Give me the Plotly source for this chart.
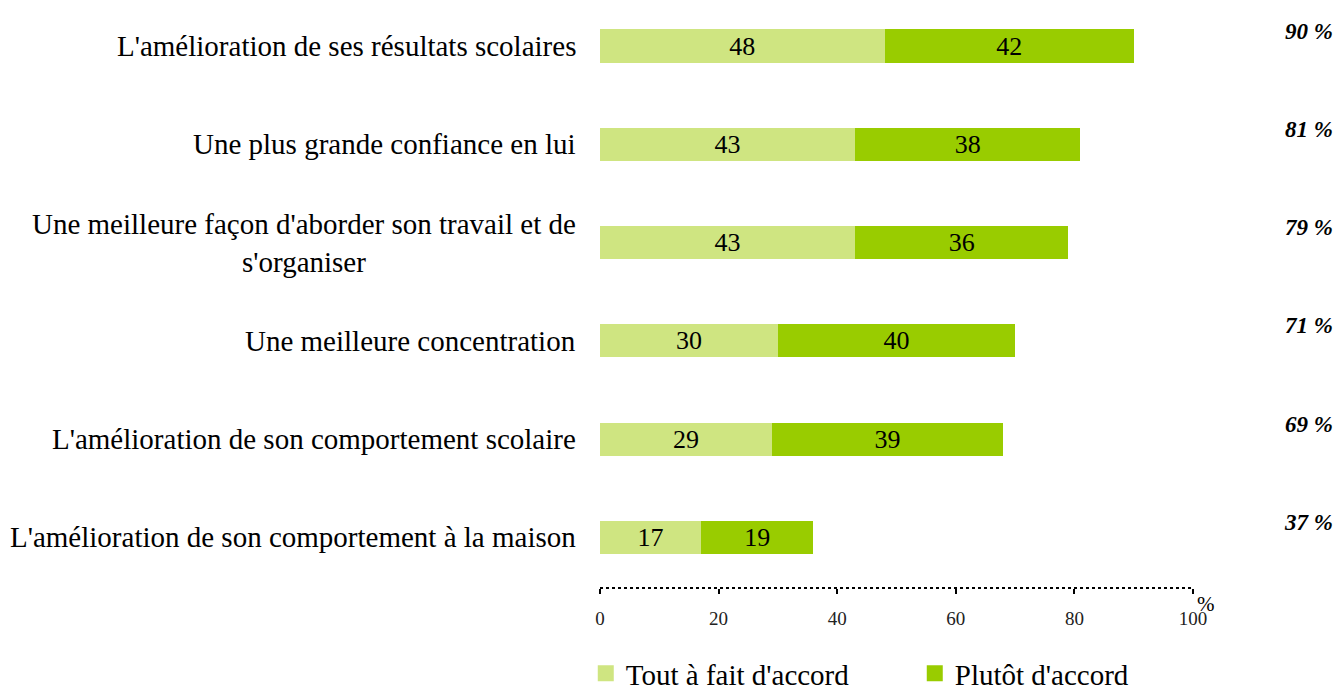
import plotly.graph_objects as go

categories = [
    "L'amélioration de ses résultats scolaires",
    "Une plus grande confiance en lui",
    "Une meilleure façon d'aborder son travail et de<br>s'organiser",
    "Une meilleure concentration",
    "L'amélioration de son comportement scolaire",
    "L'amélioration de son comportement à la maison",
]
tout_a_fait = [48, 43, 43, 30, 29, 17]
plutot = [42, 38, 36, 40, 39, 19]
totals = ["90 %", "81 %", "79 %", "71 %", "69 %", "37 %"]
ticks = [0, 20, 40, 60, 80, 100]

SERIF = "Liberation Serif, Times New Roman, serif"
LIGHT = "#cfe581"
DARK = "#99cc00"
rows = list(range(len(categories)))

fig = go.Figure()
for vals, name, col in [(tout_a_fait, "Tout à fait d'accord", LIGHT),
                        (plutot, "Plutôt d'accord", DARK)]:
    fig.add_trace(go.Bar(
        y=rows, x=vals, orientation="h", name=name,
        marker=dict(color=col, line_width=0), text=vals, textposition="inside",
        insidetextanchor="middle", textangle=0, constraintext="none",
        textfont=dict(family=SERIF, size=26, color="black"),
        showlegend=False,
    ))
# legend entries with larger square symbols
for name, col in [("Tout à fait d'accord", LIGHT), ("Plutôt d'accord", DARK)]:
    fig.add_trace(go.Scatter(x=[None], y=[None], mode="markers", name=name,
                             marker=dict(symbol="square", size=18, color=col)))

# category labels
for i, c in enumerate(categories):
    fig.add_annotation(x=0, xref="paper", y=i, yref="y", text=c, showarrow=False,
                       xanchor="right", align="center", xshift=-22,
                       font=dict(family=SERIF, size=29, color="black"))

# totals on the right
for i, t in enumerate(totals):
    fig.add_annotation(x=1.2395, xref="paper", y=i, yref="y", text="<b><i>" + t + "</i></b>",
                       showarrow=False, xanchor="right", yshift=15,
                       font=dict(family=SERIF, size=23, color="black"))

fig.add_annotation(x=1.0, xref="paper", y=0, yref="paper", text="%", showarrow=False,
                   xanchor="left", yanchor="top", xshift=2, yshift=-2,
                   font=dict(family=SERIF, size=21, color="black"))

fig.add_shape(type="line", xref="x", yref="paper", x0=0, x1=100, y0=0, y1=0,
              line=dict(color="black", width=2, dash="dot"))

fig.update_layout(
    width=1338, height=690,
    margin=dict(l=600, r=145, t=0, b=102),
    barmode="stack", bargap=0.664,
    plot_bgcolor="white", paper_bgcolor="white",
    showlegend=True,
    legend=dict(orientation="h", x=-0.024, xanchor="left",
                yref="container", y=0.024, yanchor="middle",
                entrywidth=284, itemwidth=30,
                font=dict(family=SERIF, size=29, color="black"),
                traceorder="normal"),
    xaxis=dict(range=[0, 100], tickvals=ticks, showgrid=False, zeroline=False,
               showline=False, ticks="outside", ticklen=5, tickwidth=2, tickcolor="black",
               ticklabelstandoff=8,
               tickfont=dict(family=SERIF, size=19, color="#222")),
    yaxis=dict(range=[5.514, -0.468], showticklabels=False, showgrid=False,
               zeroline=False, showline=False),
)

fig.write_html("out.html", config={"displayModeBar": False},
               post_script="document.body.style.margin='0';")
